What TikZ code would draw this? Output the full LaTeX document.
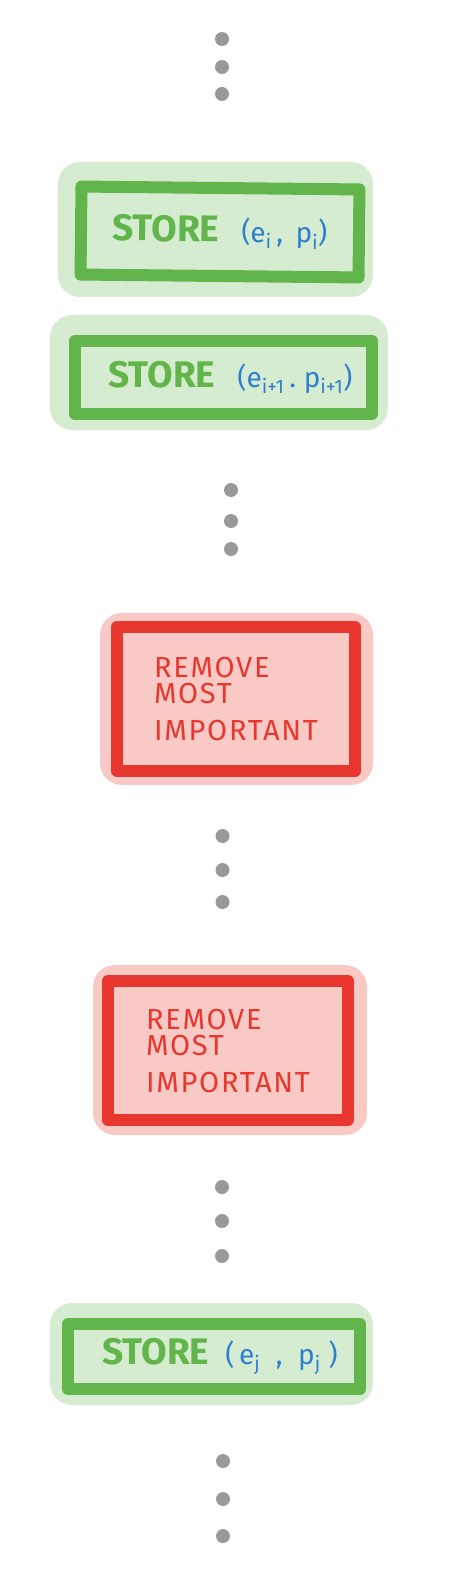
\documentclass[tikz,border=0pt]{standalone}
\usepackage{fontspec}
\setmainfont{Fira Sans}
\definecolor{gstroke}{HTML}{62B54B}
\definecolor{ghalo}{HTML}{D6ECD1}
\definecolor{rstroke}{HTML}{E8372F}
\definecolor{rhalo}{HTML}{F8C9C5}
\definecolor{bluetxt}{HTML}{2E7FD1}
\definecolor{dotgray}{HTML}{999999}
\tikzset{
  dotn/.style={circle, fill=dotgray, inner sep=0pt, minimum size=14pt},
  storebox/.style={draw=gstroke, line width=12pt, line join=round, inner sep=0pt, text=gstroke, font=\fontsize{37}{39}\selectfont\bfseries},
  removebox/.style={draw=rstroke, line width=12pt, line join=round, inner sep=0pt, text=rstroke, align=left, font=\fontsize{29}{31}\selectfont\addfontfeature{LetterSpace=6}},
  ghalofill/.style={fill=ghalo, rounded corners=22pt},
  rhalofill/.style={fill=rhalo, rounded corners=22pt},
}
\newcommand{\bt}[1]{{\color{bluetxt}\fontsize{28}{30}\selectfont\mdseries #1}}
\begin{document}
\begin{tikzpicture}[x=1pt,y=-1pt]
\useasboundingbox (0,0) rectangle (458,1586);
% dots group 1
\node[dotn] (d1a) at (222,39) {};
\node[dotn] (d1b) at (222,67) {};
\node[dotn] (d1c) at (222,94) {};
% store i
\fill[ghalofill] (58,162) rectangle (373,297);
\node[storebox, minimum width=278pt, minimum height=88pt, rotate=-0.6] (s1) at (220,232) {STORE\hspace{22pt}\bt{(e\textsubscript{i}\,,\;\,p\textsubscript{i})}};
% store i+1
\fill[ghalofill] (50,315) rectangle (388,430);
\node[storebox, minimum width=297pt, minimum height=73pt] (s2) at (223.5,377.5) {\hspace*{14pt}STORE\hspace{22pt}\bt{(e\textsubscript{i+1}\,.\;p\textsubscript{i+1})}};
% dots group 2
\node[dotn] (d2a) at (231,490) {};
\node[dotn] (d2b) at (231,521) {};
\node[dotn] (d2c) at (231,549) {};
% remove 1
\fill[rhalofill] (100,613) rectangle (373,785);
\node[removebox, minimum width=238pt, minimum height=144pt] (r1) at (236,699) {REMOVE\\[-5pt]MOST\\[6pt]IMPORTANT};
% dots group 3
\node[dotn] (d3a) at (222.5,836) {};
\node[dotn] (d3b) at (222.5,870) {};
\node[dotn] (d3c) at (222.5,902) {};
% remove 2
\fill[rhalofill] (93,965) rectangle (367,1135);
\node[removebox, minimum width=240pt, minimum height=139pt] (r2) at (228,1050.5) {REMOVE\\[-5pt]MOST\\[6pt]IMPORTANT};
% dots group 4
\node[dotn] (d4a) at (222,1187) {};
\node[dotn] (d4b) at (222,1221) {};
\node[dotn] (d4c) at (222,1256) {};
% store j
\fill[ghalofill] (50,1303) rectangle (373,1405);
\node[storebox, minimum width=292pt, minimum height=65pt] (s3) at (214,1356.5) {\hspace*{12pt}STORE\hspace{16pt}\bt{(\,e\textsubscript{j}\;\;,\;\;p\textsubscript{j}\;)}};
% dots group 5
\node[dotn] (d5a) at (223,1461) {};
\node[dotn] (d5b) at (223,1499) {};
\node[dotn] (d5c) at (223,1536) {};
\end{tikzpicture}
\end{document}
